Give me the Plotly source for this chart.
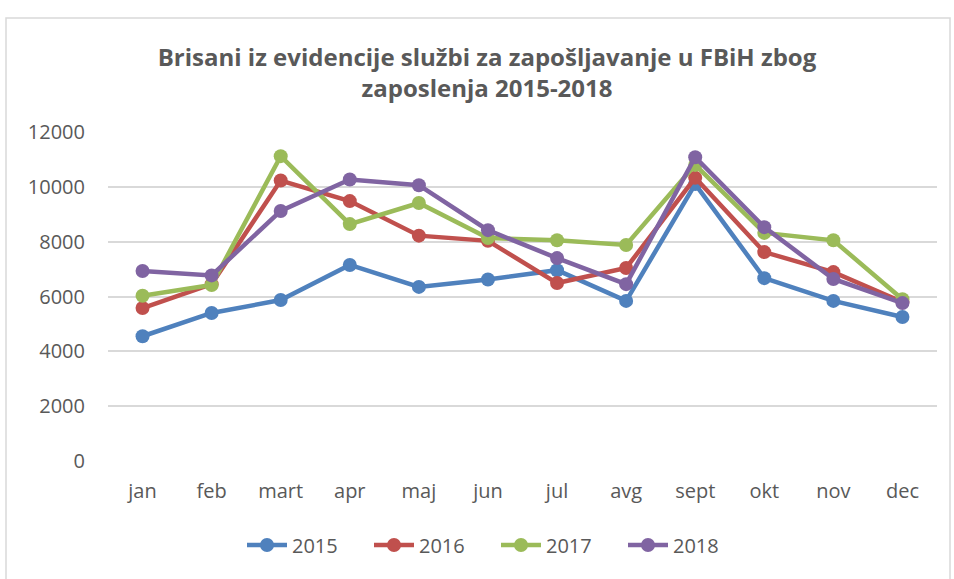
import plotly.graph_objects as go

months = ["jan", "feb", "mart", "apr", "maj", "jun", "jul", "avg", "sept", "okt", "nov", "dec"]
y2015 = [4550, 5400, 5870, 7150, 6350, 6620, 6960, 5840, 10100, 6670, 5840, 5250]
y2016 = [5580, 6450, 10230, 9480, 8220, 8030, 6490, 7040, 10330, 7620, 6890, 5800]
y2017 = [6030, 6420, 11120, 8640, 9410, 8130, 8050, 7880, 10800, 8320, 8050, 5900]
y2018 = [6930, 6770, 9120, 10270, 10060, 8420, 7400, 6450, 11080, 8530, 6640, 5760]
series_names = ["2015", "2016", "2017", "2018"]
colors = ["#4F81BD", "#C0504D", "#9BBB59", "#8064A2"]

fig = go.Figure()
for name, vals, col in zip(series_names, [y2015, y2016, y2017, y2018], colors):
    fig.add_trace(go.Scatter(
        x=months, y=vals, name=name, mode="lines+markers",
        line=dict(color=col, width=4.5),
        marker=dict(color=col, size=14),
    ))

W, H = 954, 579
L, R, T, B = 108, 17, 132, 118
pw, ph = W - L - R, H - T - B

def px(x):
    return (x - L) / pw

def py(y):
    return (H - B - y) / ph

fig.update_layout(
    width=W, height=H,
    margin=dict(l=L, r=R, t=T, b=B),
    paper_bgcolor="white", plot_bgcolor="white",
    font=dict(family="Open Sans", color="#595959", size=20),
    title=dict(
        text="<b>Brisani iz evidencije službi za zapošljavanje u FBiH zbog<br>zaposlenja 2015-2018</b>",
        x=px(487), xanchor="center", xref="paper", y=1 - 66 / H, yanchor="middle",
        font=dict(size=24, color="#595959", family="Open Sans"),
    ),
    xaxis=dict(
        showgrid=False, zeroline=False, showline=False, ticks="",
        ticklabelstandoff=16, tickfont=dict(size=20, color="#595959"),
        range=[-0.5, 11.5],
    ),
    yaxis=dict(
        range=[0, 12000], dtick=2000, showgrid=True, gridcolor="#D9D9D9", gridwidth=1.5,
        zeroline=False, showline=False, ticks="", ticklabelstandoff=22,
        tickfont=dict(size=20, color="#595959"), tickformat="d",
    ),
    legend=dict(
        orientation="h", x=px(496), xanchor="center", y=py(545), yanchor="middle",
        font=dict(size=20, color="#595959"), itemwidth=40, traceorder="normal",
        entrywidth=72,
    ),
    showlegend=True,
    shapes=[dict(
        type="rect", xref="paper", yref="paper",
        x0=px(6), x1=px(950), y0=py(585), y1=py(18),
        line=dict(color="#D9D9D9", width=1.5), fillcolor="rgba(0,0,0,0)", layer="below",
    )],
)

fig.write_html("out.html", config={"displayModeBar": False},
               post_script="document.body.style.margin='0';")
